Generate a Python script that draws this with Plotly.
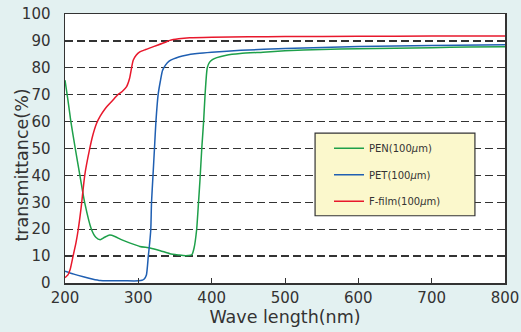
import plotly.graph_objects as go

# ---- data ----
pen_x = [200, 204, 208, 214, 220, 227, 236, 242, 248, 254, 261, 268, 276, 288, 302, 316, 330, 343, 355, 361, 368, 373, 376,
         379.5, 382, 384, 386.5, 389, 391, 394, 397, 401, 407, 420, 439, 470, 500, 550, 600, 650, 700, 750, 800]
pen_y = [75.4, 68, 60, 50, 40.5, 29.7, 20, 17, 16.1, 17, 17.8, 17.3, 16.2, 14.9, 13.6, 13, 12, 10.9, 10.4, 10.2, 10.2, 10.5, 13,
         19.8, 29.7, 38, 50, 60, 70, 80, 82, 83, 83.8, 84.7, 85.3, 85.8, 86.3, 86.8, 87.1, 87.3, 87.5, 87.7, 87.8]

pet_x = [200, 212, 225, 237, 248, 260, 280, 300, 305, 308, 311, 313.6, 315.5, 317, 318, 320, 322, 324, 327, 330, 333, 337,
         342, 348, 355, 365, 380, 400, 440, 500, 600, 700, 800]
pet_y = [4.4, 3.3, 2.3, 1.5, 0.9, 0.8, 0.8, 0.8, 1, 1.5, 3, 10, 15, 20, 30, 40, 50, 60, 70, 75, 79, 81,
         82.5, 83.3, 84, 84.7, 85.3, 85.8, 86.5, 87.2, 87.9, 88.3, 88.6]

ff_x = [200, 204, 207, 211, 215, 218, 222, 227, 233, 238, 243, 248, 254, 261, 267, 272, 278, 284, 288, 291, 293, 297, 302,
        310, 318, 325, 335, 343, 355, 370, 400, 450, 500, 600, 700, 800]
ff_y = [2, 3, 5, 10, 15, 19.8, 28, 40.2, 49, 55, 59.3, 62, 64.5, 66.7, 68.5, 70, 71.2, 73, 76, 80.3, 82.8, 84.7, 85.9,
        86.8, 87.6, 88.3, 89.3, 90.2, 90.8, 91.2, 91.4, 91.5, 91.6, 91.7, 91.8, 91.8]

series_names = ["PEN(100<i>μ</i>m)", "PET(100<i>μ</i>m)", "F-film(100<i>μ</i>m)"]
series_colors = ["#1ea04a", "#1f5fb2", "#e8182c"]

x_ticks = [200, 300, 400, 500, 600, 700, 800]
y_ticks = [0, 10, 20, 30, 40, 50, 60, 70, 80, 90, 100]

x_title = "Wave length(nm)"
y_title = "transmittance(%)"

FONT = "DejaVu Sans"
INK = "#333333"

fig = go.Figure()
for i, (xs, ys) in enumerate([(pen_x, pen_y), (pet_x, pet_y), (ff_x, ff_y)]):
    fig.add_trace(go.Scatter(
        x=xs, y=ys, mode="lines", name=series_names[i], legendgroup=f"g{i}",
        line=dict(color=series_colors[i], width=1.5, shape="spline", smoothing=0.6),
        hoverinfo="skip",
    ))

# legend box
fig.add_shape(type="rect", xref="x", yref="y", x0=541, x1=759, y0=25, y1=55.7,
              fillcolor="#fbf8cc", line=dict(color=INK, width=1.2), layer="above")

# y-axis title
fig.add_annotation(text=y_title, textangle=-90, xref="paper", yref="paper",
                   x=-0.098, y=0.44, xanchor="center", yanchor="middle", showarrow=False,
                   font=dict(size=17.5, family=FONT, color=INK))

fig.update_layout(
    width=521, height=332,
    margin=dict(l=65, r=16, t=13.5, b=48.5, autoexpand=False),
    paper_bgcolor="#e3f1f1",
    plot_bgcolor="#ffffff",
    font=dict(family=FONT, color=INK),
    showlegend=True,
    legend=dict(x=0.6, y=0.555, xanchor="left", yanchor="top",
                bgcolor="rgba(0,0,0,0)", borderwidth=0,
                font=dict(size=10, family=FONT, color=INK),
                tracegroupgap=7.5, itemclick=False, itemdoubleclick=False),
    xaxis=dict(range=[200, 800], tickvals=x_ticks, ticks="inside", ticklen=5, tickcolor=INK,
               showline=True, linecolor=INK, linewidth=1.5, mirror=True,
               showgrid=False, zeroline=False, automargin=False,
               tickfont=dict(size=15, family=FONT, color=INK),
               title=dict(text=x_title, font=dict(size=17.5, family=FONT, color=INK), standoff=2)),
    yaxis=dict(range=[0, 100], tickvals=y_ticks, ticks="", automargin=False, ticklabelstandoff=10,
               showline=True, linecolor=INK, linewidth=1.5, mirror=True,
               showgrid=True, gridcolor=INK, gridwidth=1.3, griddash="8px,4px",
               zeroline=False,
               tickfont=dict(size=15, family=FONT, color=INK)),
)

fig.write_html("out.html", config={"displayModeBar": False, "staticPlot": True},
               post_script="document.body.style.margin='0';document.body.style.overflow='hidden';")
